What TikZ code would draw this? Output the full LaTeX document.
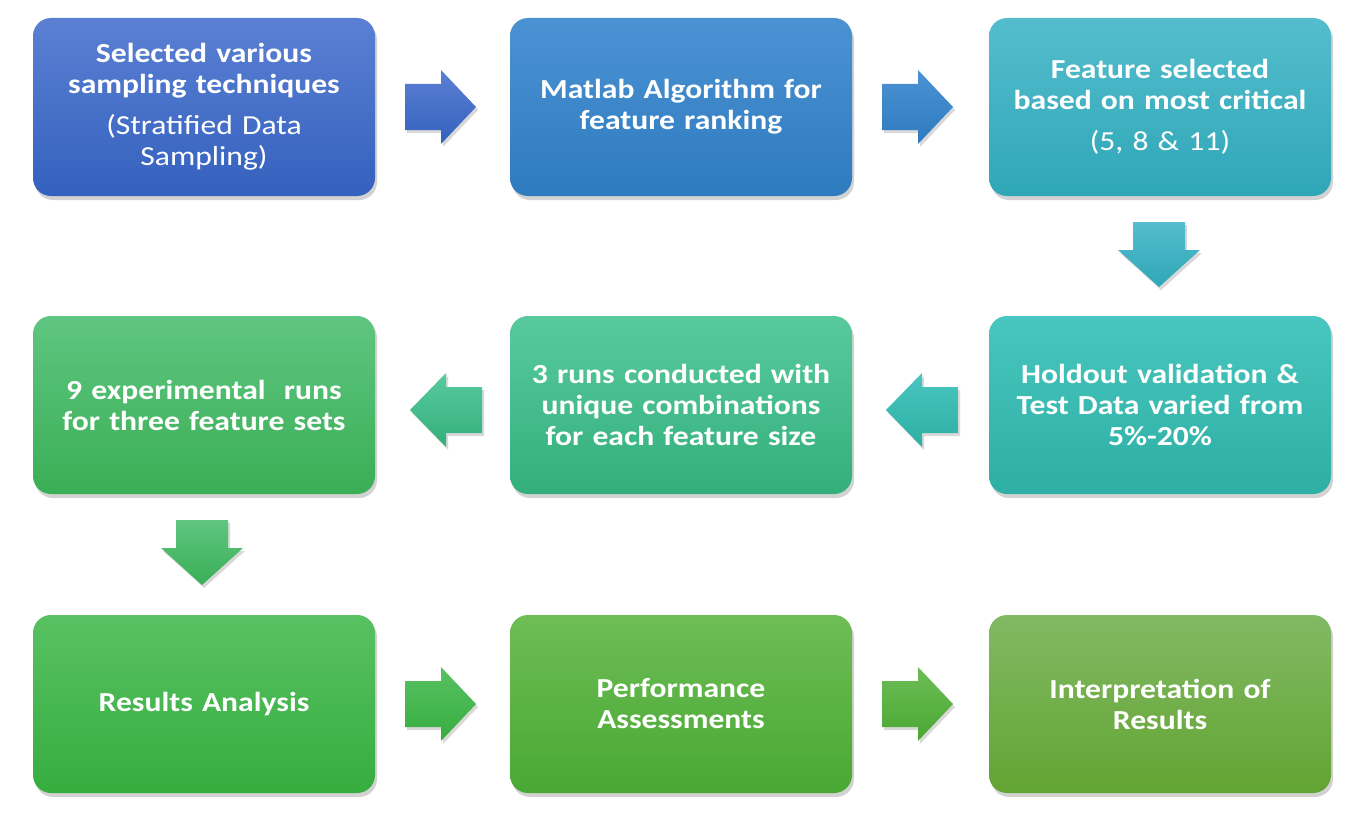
\documentclass[tikz,border=0pt]{standalone}
\usepackage{fontspec}
\setmainfont{Carlito}[FakeStretch=1.15]
\usetikzlibrary{shadows,calc}
\definecolor{a1t}{HTML}{5B80D3}\definecolor{a1b}{HTML}{3461BE}
\definecolor{a2t}{HTML}{4B92D3}\definecolor{a2b}{HTML}{2E7BBF}
\definecolor{a3t}{HTML}{54BDCD}\definecolor{a3b}{HTML}{2FA7B7}
\definecolor{a6t}{HTML}{48C6C0}\definecolor{a6b}{HTML}{2DAFA3}
\definecolor{a5t}{HTML}{58CA9E}\definecolor{a5b}{HTML}{33AF7B}
\definecolor{a4t}{HTML}{5FC681}\definecolor{a4b}{HTML}{3AAE55}
\definecolor{a7t}{HTML}{58C162}\definecolor{a7b}{HTML}{36AD3F}
\definecolor{a8t}{HTML}{6EBD56}\definecolor{a8b}{HTML}{49A833}
\definecolor{a9t}{HTML}{82B964}\definecolor{a9b}{HTML}{62A432}
\tikzset{
  box/.style={rectangle, rounded corners=18pt, minimum width=342pt, minimum height=178pt,
    text width=330pt, align=center, text=white, font=\fontsize{27.5}{31}\selectfont,
    drop shadow={opacity=0.35, shadow xshift=2pt, shadow yshift=-4pt}},
  arr/.style={drop shadow={opacity=0.3, shadow xshift=2pt, shadow yshift=-3pt}},
}
\newcommand\rarr[4]{% center x, center y, top, bottom
  \shade[arr, top color=#3, bottom color=#4] (#1-35,#2-23) -- (#1+1,#2-23) -- (#1+1,#2-37) -- (#1+36,#2) -- (#1+1,#2+37) -- (#1+1,#2+23) -- (#1-35,#2+23) -- cycle;}
\newcommand\larr[4]{%
  \shade[arr, top color=#3, bottom color=#4] (#1+36,#2-23) -- (#1,#2-23) -- (#1,#2-37) -- (#1-36,#2) -- (#1,#2+37) -- (#1,#2+23) -- (#1+36,#2+23) -- cycle;}
\newcommand\darr[4]{%
  \shade[arr, top color=#3, bottom color=#4] (#1-26,#2-32) -- (#1+26,#2-32) -- (#1+26,#2-4) -- (#1+41,#2-4) -- (#1,#2+33) -- (#1-41,#2-4) -- (#1-26,#2-4) -- cycle;}
\begin{document}
\begin{tikzpicture}[x=1pt,y=-1pt]
\useasboundingbox[fill=white] (0,0) rectangle (1366,816);
% row 1
\node[box, top color=a1t, bottom color=a1b] (b1) at (204,107)
  {\textbf{Selected various\\sampling techniques}\\[10pt](Stratified Data\\Sampling)};
\node[box, top color=a2t, bottom color=a2b] (b2) at (681,107)
  {\textbf{Matlab Algorithm for\\feature ranking}};
\node[box, top color=a3t, bottom color=a3b] (b3) at (1160,107)
  {\textbf{Feature selected\\based on most critical}\\[10pt](5, 8 \& 11)};
% row 2
\node[box, top color=a6t, bottom color=a6b] (b6) at (1160,405)
  {\textbf{Holdout validation \&\\Test Data varied from\\5\%-20\%}};
\node[box, top color=a5t, bottom color=a5b] (b5) at (681,405)
  {\textbf{3 runs conducted with\\unique combinations\\for each feature size}};
\node[box, top color=a4t, bottom color=a4b] (b4) at (204,405)
  {\textbf{9 experimental\ \ runs\\for three feature sets}};
% row 3
\node[box, top color=a7t, bottom color=a7b] (b7) at (204,704)
  {\textbf{Results Analysis}};
\node[box, top color=a8t, bottom color=a8b] (b8) at (681,704)
  {\textbf{Performance\\Assessments}};
\node[box, top color=a9t, bottom color=a9b] (b9) at (1160,704)
  {\textbf{Interpretation of\\Results}};
% arrows
\rarr{440}{107}{a1t}{a1b}
\rarr{917}{107}{a2t}{a2b}
\darr{1159}{254}{a3t}{a3b}
\larr{922}{410}{a6t}{a6b}
\larr{446}{410}{a5t}{a5b}
\darr{202}{552}{a4t}{a4b}
\rarr{440}{704}{a7t}{a7b}
\rarr{917}{704}{a8t}{a8b}
\end{tikzpicture}
\end{document}
